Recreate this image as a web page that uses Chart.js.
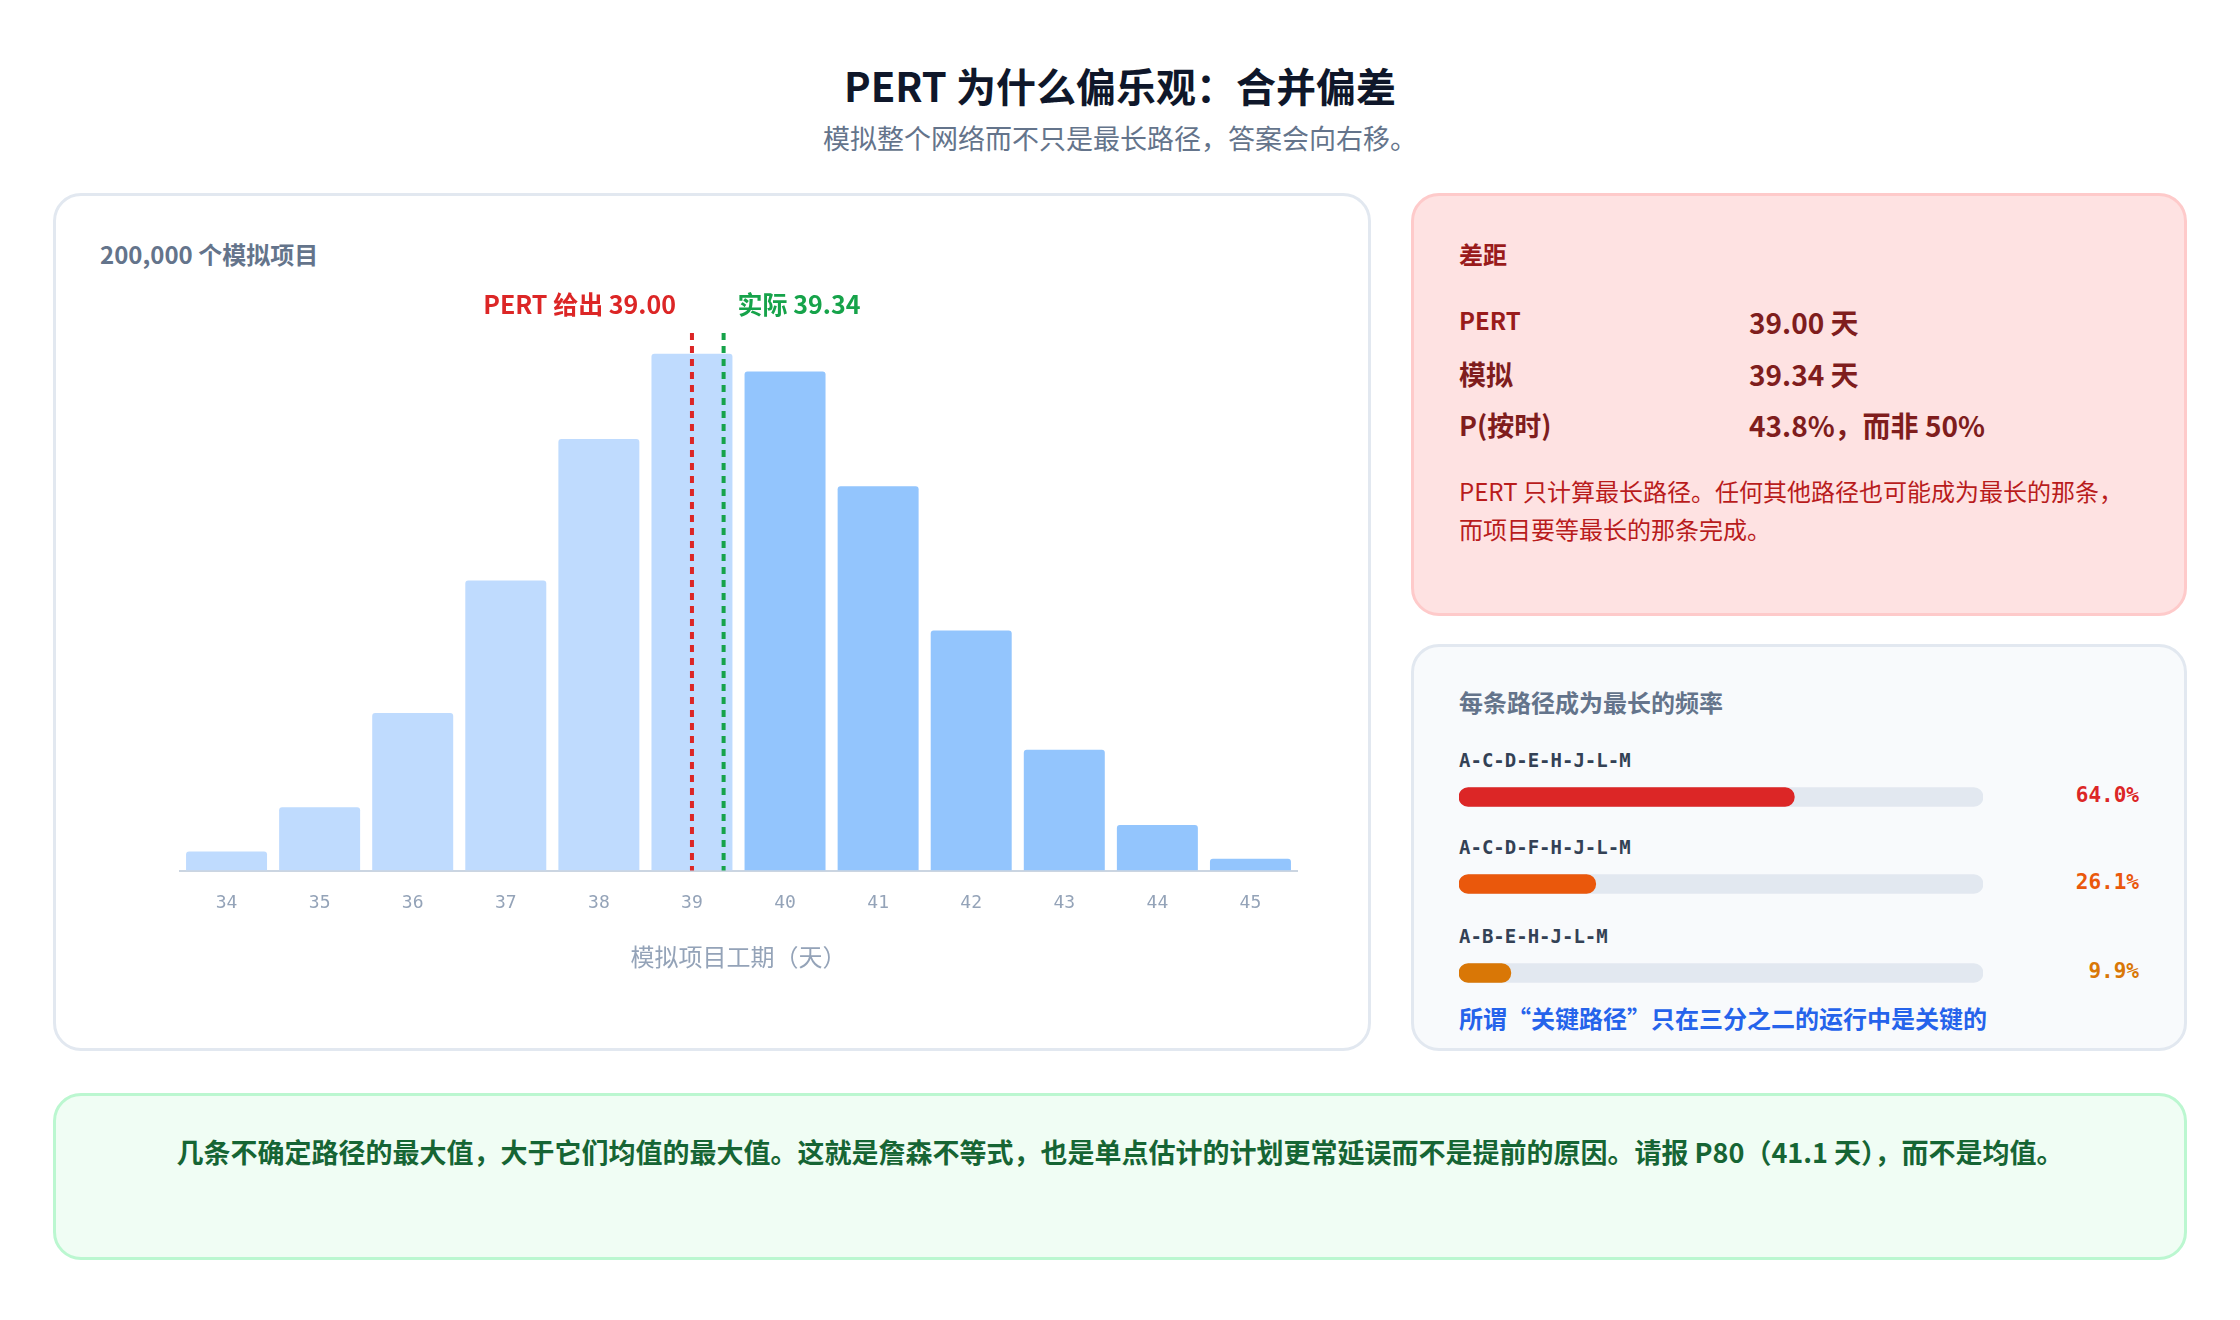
<!DOCTYPE html>
<html><head><meta charset="utf-8">
<script src="https://cdn.jsdelivr.net/npm/chart.js@4"></script>
<style>
body{margin:0;width:2240px;height:1320px;background:#fff;font-family:"Noto Sans CJK SC","Noto Sans",sans-serif;position:relative;overflow:hidden}
.a{position:absolute;white-space:nowrap}
.card{position:absolute;border-radius:28px;box-sizing:border-box;border:3px solid}
.mono{font-family:"DejaVu Sans Mono",monospace}
</style></head><body>
<div class="a" style="left:0;width:2240px;text-align:center;top:56px;font-size:40px;font-weight:700;color:#0f172a">PERT 为什么偏乐观：合并偏差</div>
<div class="a" style="left:0;width:2240px;text-align:center;top:118px;font-size:27px;color:#64748b">模拟整个网络而不只是最长路径，答案会向右移。</div>

<div class="card" style="left:53px;top:193px;width:1318px;height:858px;border-color:#e2e8f0;background:#fff"></div>
<div class="a" style="left:100px;top:236px;font-size:24px;font-weight:700;color:#64748b">200,000 个模拟项目</div>
<div class="a" style="left:100px;top:279px;width:1229px;height:696px"><canvas id="main"></canvas></div>

<div class="card" style="left:1411px;top:193px;width:776px;height:423px;border-color:#fecaca;background:#fee2e2"></div>
<div class="a" style="left:1459px;top:236px;font-size:24px;font-weight:700;color:#991b1b">差距</div>
<div class="a" style="left:1459px;top:302px;font-size:24px;font-weight:700;color:#991b1b">PERT</div>
<div class="a" style="left:1749px;top:302px;font-size:28px;font-weight:700;color:#7f1d1d">39.00 天</div>
<div class="a" style="left:1459px;top:354px;font-size:27px;font-weight:700;color:#7f1d1d">模拟</div>
<div class="a" style="left:1749px;top:354px;font-size:28px;font-weight:700;color:#7f1d1d">39.34 天</div>
<div class="a" style="left:1459px;top:405px;font-size:27px;font-weight:700;color:#7f1d1d">P(按时)</div>
<div class="a" style="left:1749px;top:405px;font-size:28px;font-weight:700;color:#7f1d1d">43.8%，而非 50%</div>
<div class="a" style="left:1459px;top:472px;font-size:24px;line-height:38px;color:#b91c1c">PERT 只计算最长路径。任何其他路径也可能成为最长的那条，<br>而项目要等最长的那条完成。</div>

<div class="card" style="left:1411px;top:644px;width:776px;height:407px;border-color:#e2e8f0;background:#f8fafc"></div>
<div class="a" style="left:1459px;top:684px;font-size:24px;font-weight:700;color:#64748b">每条路径成为最长的频率</div>
<div id="paths"></div>
<div class="a" style="left:1459px;top:1000px;font-size:24px;font-weight:700;color:#2563eb">所谓“关键路径”只在三分之二的运行中是关键的</div>

<div class="card" style="left:53px;top:1093px;width:2134px;height:167px;border-color:#bbf7d0;background:#f0fdf4"></div>
<div class="a" style="left:53px;width:2134px;text-align:center;top:1132px;font-size:27px;font-weight:700;color:#166534">几条不确定路径的最大值，大于它们均值的最大值。这就是詹森不等式，也是单点估计的计划更常延误而不是提前的原因。请报 P80（41.1 天），而不是均值。</div>

<script>
const days = ["34","35","36","37","38","39","40","41","42","43","44","45"];
const counts = [1380,4560,11330,20870,31040,37180,35910,27650,17270,8690,3280,850];
const pertValue = 39.00, actualValue = 39.34;
const pathNames = ["A-C-D-E-H-J-L-M","A-C-D-F-H-J-L-M","A-B-E-H-J-L-M"];
const pathShares = [64.0,26.1,9.9];
const pathColors = ["#dc2626","#ea580c","#d97706"];

const lines = {
  id:'lines',
  afterDatasetsDraw(c){
    const x=c.scales.x, ctx=c.ctx, a=c.chartArea;
    const items=[[pertValue,'#dc2626','PERT 给出 39.00','right',-16],[actualValue,'#16a34a','实际 39.34','left',14]];
    items.forEach(([v,col,txt,al,off])=>{
      const px=x.getPixelForValue(v-34);
      ctx.save();ctx.strokeStyle=col;ctx.lineWidth=4;ctx.setLineDash([7,6]);
      ctx.beginPath();ctx.moveTo(px,a.top+4);ctx.lineTo(px,a.bottom);ctx.stroke();
      ctx.setLineDash([]);ctx.fillStyle=col;ctx.font='700 25px "Noto Sans CJK SC"';
      ctx.textAlign=al;ctx.textBaseline='middle';ctx.fillText(txt,px+off,a.top-25);ctx.restore();
    });
  }
};
new Chart(document.getElementById('main'),{
  type:'bar',
  data:{labels:days,datasets:[{data:counts,
    backgroundColor:days.map(d=>+d<=39?'#bfdbfe':'#93c5fd'),
    barPercentage:0.87,categoryPercentage:1,borderRadius:3,borderSkipped:'bottom'}]},
  options:{responsive:true,maintainAspectRatio:false,animation:false,
    layout:{padding:{left:80,right:32,top:50,bottom:0}},
    plugins:{legend:{display:false},tooltip:{enabled:false}},
    scales:{
      x:{grid:{display:false},border:{color:'#cbd5e1',width:2},
        ticks:{color:'#94a3b8',font:{family:'DejaVu Sans Mono',size:18},padding:14},
        title:{display:true,text:'模拟项目工期（天）',color:'#94a3b8',font:{family:'Noto Sans CJK SC',size:24},padding:{top:14}}},
      y:{display:false,min:0,max:38960}
    }},
  plugins:[lines]
});

const holder=document.getElementById('paths');
const tops=[763,850,939];
pathNames.forEach((n,i)=>{
  const lab=document.createElement('div');lab.className='a mono';
  lab.style.cssText=`left:1459px;top:${tops[i]-14}px;font-size:19px;font-weight:700;color:#334155`;
  lab.textContent=n;holder.appendChild(lab);
  const pct=document.createElement('div');pct.className='a mono';
  pct.style.cssText=`right:${2240-2139}px;top:${tops[i]+20}px;font-size:21px;font-weight:700;color:${pathColors[i]}`;
  pct.textContent=pathShares[i].toFixed(1)+'%';holder.appendChild(pct);
  const box=document.createElement('div');box.className='a';
  box.style.cssText=`left:1459px;top:${tops[i]+19}px;width:524px;height:30px`;
  const cv=document.createElement('canvas');box.appendChild(cv);holder.appendChild(box);
  new Chart(cv,{type:'bar',
    data:{labels:[n],datasets:[
      {data:[pathShares[i]],backgroundColor:pathColors[i],borderRadius:10,borderSkipped:false,barThickness:19,grouped:false,order:0},
      {data:[100],backgroundColor:'#e2e8f0',borderRadius:10,borderSkipped:false,barThickness:19,grouped:false,order:1}]},
    options:{indexAxis:'y',responsive:true,maintainAspectRatio:false,animation:false,
      layout:{padding:0},plugins:{legend:{display:false},tooltip:{enabled:false}},
      scales:{x:{display:false,min:0,max:100},y:{display:false}}}});
});
</script>
</body></html>
